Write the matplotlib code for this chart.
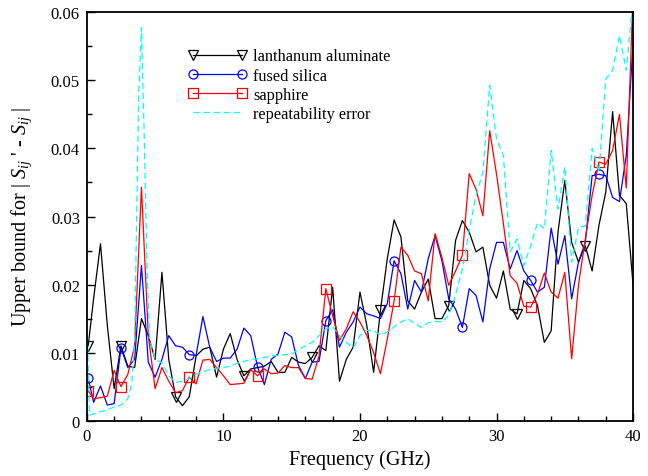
import matplotlib
matplotlib.use("Agg")
import matplotlib.pyplot as plt
from matplotlib.ticker import MultipleLocator
import numpy as np

plt.rcParams['font.family'] = 'Liberation Serif'
plt.rcParams['mathtext.fontset'] = 'custom'
plt.rcParams['mathtext.rm'] = 'Liberation Serif'
plt.rcParams['mathtext.it'] = 'Liberation Serif:italic'

# frequency grid of the three materials (GHz)
freq = np.concatenate([[0.1], np.arange(0.5, 40.01, 0.5)])

la = [0.011, 0.018, 0.026, 0.014, 0.0047, 0.011, 0.008, 0.0078, 0.015, 0.0125,
      0.009, 0.0218, 0.009, 0.0035, 0.0022, 0.0035, 0.0095, 0.0105, 0.0108, 0.0064,
      0.0105, 0.0128, 0.009, 0.0066, 0.0076, 0.0078, 0.008, 0.0087, 0.0071, 0.0071,
      0.0093, 0.0086, 0.0084, 0.0093, 0.011, 0.0103, 0.0196, 0.0058, 0.009, 0.0108,
      0.0189, 0.014, 0.0071, 0.0162, 0.0238, 0.0295, 0.027, 0.0176, 0.0164, 0.0189,
      0.0208, 0.015, 0.015, 0.0169, 0.0265, 0.0294, 0.0277, 0.0248, 0.0255, 0.0199,
      0.018, 0.022, 0.0164, 0.0157, 0.0206, 0.0194, 0.0169, 0.0115, 0.0132, 0.0277,
      0.0353, 0.0262, 0.0233, 0.0257, 0.022, 0.0287, 0.0336, 0.0454, 0.0331, 0.0319,
      0.0199]

fs = [0.0062, 0.0027, 0.0051, 0.0023, 0.0025, 0.0107, 0.0078, 0.009, 0.0228, 0.0086,
      0.0064, 0.009, 0.0125, 0.011, 0.0108, 0.0097, 0.0096, 0.0153, 0.0108, 0.0087,
      0.0092, 0.0092, 0.0105, 0.0136, 0.0125, 0.0079, 0.0053, 0.009, 0.0098, 0.013,
      0.0123, 0.0081, 0.0062, 0.0086, 0.0087, 0.0147, 0.0163, 0.0108, 0.013, 0.0145,
      0.0167, 0.0157, 0.0154, 0.015, 0.0172, 0.0235, 0.0216, 0.0164, 0.0206, 0.0189,
      0.0238, 0.0272, 0.0235, 0.0179, 0.0164, 0.0137, 0.0194, 0.0184, 0.0145, 0.0223,
      0.0262, 0.0262, 0.0223, 0.025, 0.022, 0.0206, 0.0189, 0.0196, 0.0283, 0.023,
      0.0272, 0.0179, 0.0233, 0.0262, 0.036, 0.0362, 0.036, 0.0328, 0.0322, 0.039,
      0.0556]

sa = [0.0044, 0.0032, 0.0034, 0.0036, 0.0074, 0.005, 0.0068, 0.011, 0.0343, 0.0125,
      0.0047, 0.0078, 0.0058, 0.0041, 0.0044, 0.0064, 0.0054, 0.0089, 0.009, 0.0078,
      0.0066, 0.0053, 0.0054, 0.0055, 0.0075, 0.0066, 0.0076, 0.0069, 0.007, 0.0081,
      0.0078, 0.0078, 0.0062, 0.0061, 0.0095, 0.0194, 0.0154, 0.0118, 0.0135, 0.016,
      0.0145, 0.0125, 0.01, 0.0069, 0.012, 0.0176, 0.0255, 0.0243, 0.022, 0.0216,
      0.0176, 0.0275, 0.024, 0.0199, 0.022, 0.0243, 0.0363, 0.034, 0.0301, 0.0426,
      0.0362, 0.029, 0.0213, 0.0202, 0.0168, 0.0167, 0.0186, 0.0217, 0.0189, 0.018,
      0.0218, 0.0091, 0.0199, 0.0267, 0.0331, 0.038, 0.0377, 0.0397, 0.045, 0.0342,
      0.063]

# repeatability error, own frequency points
freq_rep = [0.0, 0.2, 0.5, 1.0, 1.5, 2.0, 2.5, 3.0, 3.3, 3.5, 3.8, 4.0, 4.2, 4.4, 4.6,
            5.0, 5.5, 6.0, 6.5, 7.0, 7.5, 8.0, 8.5, 9.0, 9.5, 10.0, 10.5, 11.0, 11.5,
            12.0, 12.5, 13.0, 13.5, 14.0, 14.5, 15.0, 15.5, 16.0, 16.5, 17.0, 17.5,
            18.0, 18.5, 19.0, 19.5, 20.0, 20.5, 21.0, 21.5, 22.0, 22.5, 23.0, 23.5,
            24.0, 24.5, 25.0, 25.5, 26.0, 26.5, 27.0, 27.5, 28.0, 28.5, 29.0, 29.5,
            30.0, 30.5, 31.0, 31.5, 32.0, 32.5, 33.0, 33.5, 34.0, 34.5, 35.0, 35.5,
            36.0, 36.5, 37.0, 37.5, 38.0, 38.5, 39.0, 39.5, 40.0]
rep = [0.0155, 0.0008, 0.001, 0.0013, 0.0016, 0.002, 0.0023, 0.0032, 0.0056, 0.012,
       0.048, 0.0578, 0.042, 0.023, 0.012, 0.009, 0.0085, 0.0066, 0.0056, 0.0058,
       0.0062, 0.0068, 0.0072, 0.0075, 0.0077, 0.0078, 0.008, 0.0084, 0.0087, 0.009,
       0.0091, 0.0093, 0.0095, 0.0096, 0.0097, 0.0098, 0.0104, 0.011, 0.0115, 0.0125,
       0.0135, 0.0138, 0.0125, 0.0115, 0.0107, 0.0125, 0.0133, 0.0132, 0.0126, 0.013,
       0.0138, 0.0145, 0.015, 0.0143, 0.0137, 0.0144, 0.0146, 0.0145, 0.0155, 0.0185,
       0.0223, 0.028, 0.0331, 0.0365, 0.0493, 0.0414, 0.039, 0.0248, 0.0267, 0.0228,
       0.0257, 0.0291, 0.0282, 0.0397, 0.0311, 0.0373, 0.0233, 0.0284, 0.0286, 0.040,
       0.0365, 0.0502, 0.0515, 0.0566, 0.0515, 0.062]

mk_la = [0, 5, 13, 23, 33, 43, 53, 63, 73]
mk_other = [0, 5, 15, 25, 35, 45, 55, 65, 75]

fig = plt.figure(figsize=(6.48, 4.77), dpi=100)
ax = fig.add_axes([0.134, 0.116, 0.843, 0.856])

ax.plot(freq, la, color='black', lw=0.9, marker='v', ms=7, mfc='none', mew=0.9,
        markevery=mk_la, label='lanthanum aluminate')
ax.plot(freq, fs, color='blue', lw=0.9, marker='o', ms=6.5, mfc='none', mew=0.9,
        markevery=mk_other, label='fused silica')
ax.plot(freq, sa, color='red', lw=0.9, marker='s', ms=7, mfc='none', mew=0.9,
        markevery=mk_other, label='sapphire')
ax.plot(freq_rep, rep, color='cyan', lw=0.9, ls=(0, (5, 3)), label='repeatability error')

ax.set_xlim(0, 40)
ax.set_ylim(0, 0.06)
ax.xaxis.set_major_locator(MultipleLocator(10))
ax.xaxis.set_minor_locator(MultipleLocator(2))
ax.yaxis.set_major_locator(MultipleLocator(0.01))
ax.yaxis.set_minor_locator(MultipleLocator(0.005))
ax.set_yticks([0, 0.01, 0.02, 0.03, 0.04, 0.05, 0.06])
ax.set_yticklabels(['0', '0.01', '0.02', '0.03', '0.04', '0.05', '0.06'])
ax.tick_params(which='both', direction='in', top=False, right=False, labelsize=12, width=1)
ax.tick_params(which='major', length=6, pad=5)
ax.tick_params(which='minor', length=3.5)
for s in ax.spines.values():
    s.set_linewidth(1.3)

ax.set_xlabel('Frequency (GHz)', fontsize=14.5)
ax.set_ylabel(r"Upper bound for | $S_{ij}$ ' - $S_{ij}$ |", fontsize=14.5, labelpad=12)

ax.legend(loc='upper left', bbox_to_anchor=(0.185, 0.912), frameon=False, fontsize=11.7,
          numpoints=2, handlelength=3.6, handletextpad=0.4, labelspacing=0.2,
          borderaxespad=0, borderpad=0)

fig.savefig('out.png', dpi=100)
